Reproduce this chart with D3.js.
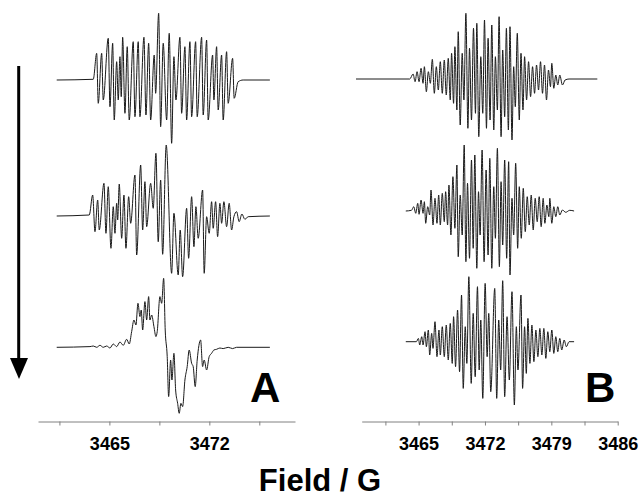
<!DOCTYPE html>
<html lang="en">
<head>
<meta charset="UTF-8">
<title>EPR spectra</title>
<script src="https://d3js.org/d3.v7.min.js"></script>
<style>
    body { margin: 0; background: #fff; }
    svg { display: block; }
    .axis path, .axis line { stroke: #808080; }
    .axis text { font-family: "Liberation Sans", Arial, sans-serif; font-weight: bold; font-size: 18px; fill: #000; }
    .trace { fill: none; stroke: #1a1a1a; stroke-width: 1; }
</style>
</head>
<body>
<svg width="640" height="497"></svg>
<script>
    // ---- data (field in G, intensity in arbitrary units) ----
    const aTicks = [3461.5, 3465, 3468.5, 3472, 3475.5];
    const aLabels = [3465, 3472];
    const bTicks = [3461.5, 3465, 3468.5, 3472, 3475.5, 3479, 3482.5, 3486];
    const bLabels = [3465, 3472, 3479, 3486];

    const aTopField = [3461.31, 3463.87, 3464.11, 3464.22, 3464.46, 3464.57, 3464.92, 3465.04, 3465.23, 3465.34, 3465.51, 3465.62, 3465.74, 3465.83, 3465.93, 3466.09, 3466.25, 3466.39, 3466.67, 3466.79, 3467.02, 3467.14, 3467.42, 3467.56, 3467.75, 3467.89, 3468.14, 3468.24, 3468.45, 3468.59, 3468.77, 3469.01, 3469.19, 3469.36, 3469.52, 3469.66, 3469.94, 3470.06, 3470.29, 3470.41, 3470.64, 3470.76, 3471.04, 3471.15, 3471.46, 3471.57, 3471.81, 3471.92, 3472.23, 3472.32, 3472.51, 3472.62, 3472.86, 3472.97, 3473.21, 3473.32, 3473.63, 3473.74, 3474.02, 3474.37, 3476.24];
    const aTopInt = [0, 0.7, 26.7, -23.3, 26.7, -20, 41.7, -26.7, 36.7, -40, 18.3, -20, 23.3, -16.7, 42.7, -33.3, 33.3, -40, 38.3, -36.7, 38.3, -36.7, 42.7, -35, 36.7, -40, 25, -13.3, 66.7, -46.7, 36.7, -40, 46.7, -63.3, 23.3, -20, 42.7, -33.3, 33.3, -40, 38.3, -36.7, 38.3, -36.7, 42.7, -35, 40, -40, 25, -20, 33.3, -30, 25, -40, 28.3, -23.3, 21.7, -18.3, -1.7, 0, 0];

    const aMidField = [3461.31, 3463.59, 3463.83, 3463.99, 3464.18, 3464.29, 3464.62, 3464.76, 3464.92, 3465.11, 3465.27, 3465.39, 3465.51, 3465.58, 3465.69, 3465.86, 3466.02, 3466.16, 3466.35, 3466.49, 3466.79, 3466.91, 3467.19, 3467.33, 3467.49, 3467.61, 3467.89, 3468.07, 3468.26, 3468.42, 3468.59, 3468.73, 3468.98, 3469.36, 3469.52, 3469.82, 3469.96, 3470.13, 3470.41, 3470.55, 3470.76, 3470.92, 3471.06, 3471.22, 3471.53, 3471.64, 3471.81, 3471.99, 3472.16, 3472.27, 3472.44, 3472.58, 3472.74, 3472.86, 3473.02, 3473.21, 3473.39, 3473.56, 3473.72, 3473.91, 3474.09, 3474.28, 3474.49, 3474.72, 3476.24];
    const aMidInt = [0, 1, 21, -15.7, 16, -14, 32.7, -17.3, 29.3, -32.3, 9.3, -17.3, 12.7, -4, 32, -22.3, 21, -32.3, 19.3, -7.3, 41, -39, 51, -14, 34.3, -10.7, 32.7, 7.7, 62.7, -25.7, 36, -38.3, 71, -57.3, 2.7, -59, -14, -60.7, 7.7, -42.3, 19.3, -30.7, 9.3, -22.3, 26, -57.3, -0.7, -17.3, 14.3, -12.3, 14.3, -20.7, 12.7, -7.3, 14.3, -10.7, 12.7, -14, -0.7, 4.3, -5.7, 2, -3.3, -0.7, 0];

    const aLowField = [3461.31, 3463.64, 3463.87, 3464.11, 3464.34, 3464.57, 3464.81, 3465.04, 3465.27, 3465.51, 3465.74, 3465.97, 3466.21, 3466.39, 3466.56, 3466.72, 3466.86, 3467.00, 3467.14, 3467.23, 3467.33, 3467.49, 3467.61, 3467.75, 3467.84, 3467.96, 3468.12, 3468.26, 3468.35, 3468.54, 3468.66, 3468.80, 3468.91, 3469.05, 3469.15, 3469.29, 3469.38, 3469.52, 3469.64, 3469.78, 3469.89, 3470.01, 3470.13, 3470.29, 3470.45, 3470.59, 3470.76, 3470.87, 3471.01, 3471.15, 3471.39, 3471.53, 3471.64, 3471.81, 3471.99, 3472.16, 3472.32, 3472.51, 3472.74, 3472.97, 3473.32, 3473.63, 3473.91, 3476.24];
    const aLowInt = [0, 0.7, 1.3, 0, 2, 0, 1.3, -0.7, 3.3, 0.7, 5.3, 2, 8, 3.3, 15.7, 27.3, 22.3, 44, 30.7, 37.3, 17.3, 45.7, 27.3, 50.7, 27.3, 32.3, 20.7, 10.7, 15.7, 50.7, 44, 69, 17.3, -9.3, -49.3, -12.7, -32.7, -6, -42.7, -56, -66, -56, -59.3, -32.7, -19.3, -2.7, -16, -19.3, -39.3, -12.7, 7.3, -19.3, -12.7, -22.7, -9.3, -6, -2.7, -2, -0.7, -1.3, 0, -1.3, 0, 0];

    const bTopField = [3458.4, 3464.07, 3464.42, 3464.63, 3464.84, 3465.05, 3465.26, 3465.47, 3465.61, 3465.82, 3466.03, 3466.24, 3466.45, 3466.66, 3466.87, 3467.08, 3467.29, 3467.50, 3467.71, 3467.92, 3468.13, 3468.34, 3468.48, 3468.69, 3468.83, 3469.04, 3469.18, 3469.39, 3469.60, 3469.78, 3469.99, 3470.20, 3470.37, 3470.58, 3470.79, 3471.00, 3471.14, 3471.35, 3471.56, 3471.77, 3471.95, 3472.16, 3472.33, 3472.54, 3472.72, 3472.93, 3473.10, 3473.31, 3473.49, 3473.70, 3473.87, 3474.08, 3474.26, 3474.47, 3474.64, 3474.85, 3475.03, 3475.20, 3475.41, 3475.62, 3475.80, 3476.01, 3476.18, 3476.39, 3476.60, 3476.81, 3477.02, 3477.23, 3477.44, 3477.65, 3477.86, 3478.07, 3478.28, 3478.49, 3478.70, 3478.91, 3479.05, 3479.26, 3479.47, 3479.68, 3479.89, 3480.17, 3480.45, 3480.87, 3483.85];
    const bTopInt = [0, 0, 5, -2.7, 7.3, -2.7, 10.7, -4.3, 12.3, -12.7, 7.3, -4.3, 19.7, -14.3, 12.3, -11, 17.3, -14.3, 19, -16, 20.7, -21, 25.7, -24.3, 32.3, -31, 47.3, -46, 25.7, -21, 65.7, -49.3, 30.7, -41, 50.7, -34.3, 55.7, -57.7, 22.3, -34.3, 59, -49.3, 40.7, -41, 54, -51, 22.3, -31, 62.3, -57.7, 29, -37.7, 50.7, -51, 52.3, -61, 12.3, -27.7, 45.7, -41, 25.7, -31, 22.3, -21, 17.3, -17.7, 12.3, -14.3, 14, -11, 17.3, -14.3, 14, -21, 9, -7.7, 15.7, -9.3, 4, -6, 4, -6, -1, 0, 0];

    const bMidField = [3463.65, 3464.25, 3464.49, 3464.70, 3464.91, 3465.05, 3465.26, 3465.47, 3465.61, 3465.75, 3465.96, 3466.17, 3466.31, 3466.52, 3466.73, 3466.94, 3467.12, 3467.29, 3467.50, 3467.71, 3467.85, 3468.06, 3468.20, 3468.41, 3468.62, 3468.83, 3469.04, 3469.18, 3469.39, 3469.60, 3469.81, 3469.99, 3470.16, 3470.37, 3470.58, 3470.76, 3470.93, 3471.14, 3471.32, 3471.49, 3471.70, 3471.91, 3472.12, 3472.33, 3472.51, 3472.72, 3472.93, 3473.10, 3473.31, 3473.52, 3473.70, 3473.87, 3474.08, 3474.29, 3474.50, 3474.64, 3474.85, 3475.03, 3475.24, 3475.45, 3475.62, 3475.83, 3476.04, 3476.25, 3476.46, 3476.67, 3476.88, 3477.09, 3477.30, 3477.51, 3477.72, 3477.93, 3478.14, 3478.32, 3478.53, 3478.74, 3478.84, 3479.05, 3479.26, 3479.47, 3479.68, 3479.89, 3480.17, 3480.52, 3480.94, 3481.40];
    const bMidInt = [0, 0.7, 4.3, -2.3, 7.7, -3.3, 11, -2.3, 9.3, -12.3, 4.3, -4, 21, -14, 12.7, -12.3, 16, -14, 17.7, -10.7, 19.3, -14, 26, -24, 34.3, -17.3, 46, -45.7, 16, -24, 66, -50.7, 27.7, -47.3, 51, -37.3, 56, -57.3, 19.3, -24, 61, -50.7, 41, -44, 52.7, -57.3, 24.3, -27.3, 62.7, -55.7, 29.3, -34, 51, -47.3, 49.3, -64, 12.7, -24, 47.7, -37.3, 24.3, -27.3, 22.7, -20.7, 14.3, -14, 16, -19, 12.7, -10.7, 14.3, -15.7, 12.7, -12.3, 6, -5.7, 12.7, -12.3, 4.3, -5.7, 4.3, -4, 1, -1.3, 0.7, 0];

    const bLowField = [3463.65, 3464.77, 3464.98, 3465.12, 3465.33, 3465.47, 3465.68, 3465.82, 3466.03, 3466.17, 3466.38, 3466.52, 3466.73, 3466.94, 3467.15, 3467.29, 3467.50, 3467.71, 3467.92, 3468.13, 3468.34, 3468.55, 3468.69, 3468.90, 3469.11, 3469.32, 3469.53, 3469.71, 3469.92, 3470.09, 3470.30, 3470.55, 3470.76, 3470.97, 3471.21, 3471.39, 3471.56, 3471.77, 3472.02, 3472.23, 3472.40, 3472.61, 3473.03, 3473.24, 3473.45, 3473.66, 3473.87, 3474.08, 3474.33, 3474.57, 3474.85, 3475.10, 3475.31, 3475.48, 3475.80, 3475.97, 3476.18, 3476.36, 3476.53, 3476.74, 3476.95, 3477.16, 3477.37, 3477.58, 3477.79, 3478.00, 3478.21, 3478.42, 3478.63, 3478.84, 3479.05, 3479.26, 3479.47, 3479.68, 3479.89, 3480.10, 3480.35, 3480.59, 3480.87, 3481.40];
    const bLowInt = [0, 0, 3.3, -3.3, 5, -3.3, 10, -5, 11.7, -13.3, 8.3, -6.7, 20, -15, 11.7, -13.3, 15, -15, 16.7, -18.3, 18.3, -21.7, 25, -25, 31.7, -30, 46.7, -46.7, 15, -21.7, 65, -41.7, 28.3, -35, 55, -28.3, 21.7, -56.7, 58.3, -15, 28.3, -50, 53.3, -56.7, 21.7, -28.3, 61, -55, 25, -38.3, 50, -63.3, 15, -28.3, 46.7, -46.7, 15, -31.7, 23.3, -21.7, 16.7, -20, 11.7, -15, 13.3, -13.3, 13.3, -16.7, 10, -10, 11.7, -11.7, 5, -10, 3.3, -8.3, 1.7, -5, 0, 0];

    // ---- layout ----
    const svg = d3.select("svg");
    const axisY = 421.5;

    const panels = [
        {
            domain: [3460, 3478], range: [38, 295],
            ticks: aTicks, labels: aLabels,
            traces: [[aTopField, aTopInt], [aMidField, aMidInt], [aLowField, aLowInt]],
            baselines: [80, 216, 347.3],
            letter: "A", letterX: 250
        },
        {
            domain: [3459, 3486], range: [361.7, 617.7],
            ticks: bTicks, labels: bLabels,
            traces: [[bTopField, bTopInt], [bMidField, bMidInt], [bLowField, bLowInt]],
            baselines: [79, 211, 341.7],
            letter: "B", letterX: 585
        }
    ];

    panels.forEach(p => {
        const x = d3.scaleLinear().domain(p.domain).range(p.range);

        p.traces.forEach((t, i) => {
            const base = p.baselines[i];
            const y = d3.scaleLinear().domain([-100, 100]).range([base + 100, base - 100]);
            const pts = t[0].map((f, j) => [f, t[1][j]]);
            const line = d3.line()
                .x(d => x(d[0]))
                .y(d => y(d[1]))
                .curve(d3.curveMonotoneX);
            svg.append("path")
                .attr("class", "trace")
                .attr("d", line(pts));
        });

        const axis = d3.axisBottom(x)
            .tickValues(p.ticks)
            .tickSize(4)
            .tickSizeOuter(0)
            .tickFormat(d => p.labels.includes(d) ? d : "");

        const g = svg.append("g")
            .attr("class", "axis")
            .attr("transform", `translate(0,${axisY})`)
            .call(axis);
        g.selectAll("text").attr("y", 15.5);

        svg.append("text")
            .attr("x", p.letterX)
            .attr("y", 402)
            .style("font-family", "'Liberation Sans', Arial, sans-serif")
            .style("font-weight", "bold")
            .style("font-size", "42px")
            .text(p.letter);
    });

    // arrow
    svg.append("line")
        .attr("x1", 18.7).attr("y1", 66)
        .attr("x2", 18.7).attr("y2", 362)
        .attr("stroke", "#000")
        .attr("stroke-width", 3);
    svg.append("path")
        .attr("d", "M10,358 L28,358 L19,379 Z")
        .attr("fill", "#000");

    svg.append("text")
        .attr("x", 320)
        .attr("y", 491)
        .attr("text-anchor", "middle")
        .style("font-family", "'Liberation Sans', Arial, sans-serif")
        .style("font-weight", "bold")
        .style("font-size", "31px")
        .text("Field / G");
</script>
</body>
</html>
